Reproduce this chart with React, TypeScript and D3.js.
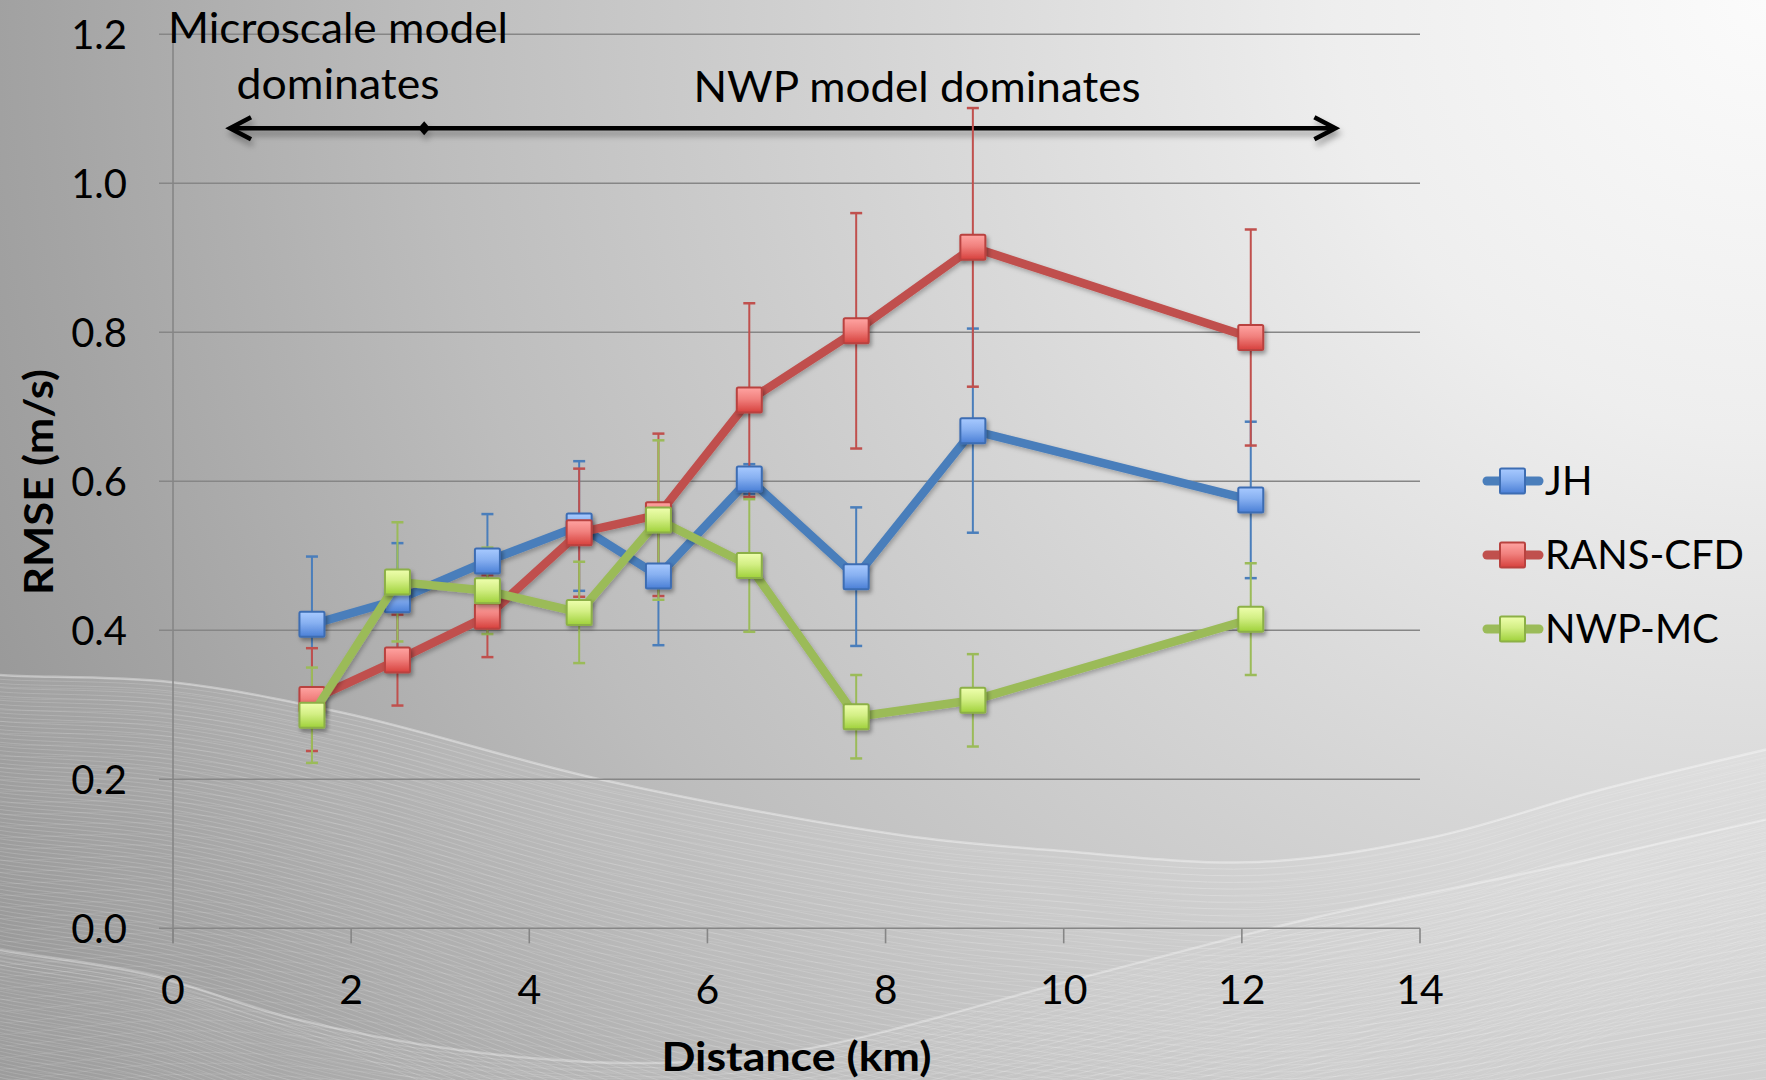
import React from 'react';
import * as d3 from 'd3';

const W = 1766;
const H = 1080;

// ---- data ----
const distances = [1.56, 2.52, 3.53, 4.56, 5.45, 6.47, 7.67, 8.98, 12.1];
const jh = [0.408, 0.441, 0.493, 0.54, 0.473, 0.603, 0.472, 0.668, 0.575];
const jhErr = [0.091, 0.076, 0.063, 0.087, 0.093, 0.02, 0.093, 0.137, 0.105];
const rans = [0.307, 0.36, 0.419, 0.531, 0.555, 0.709, 0.802, 0.914, 0.793];
const ransErr = [0.069, 0.061, 0.055, 0.086, 0.109, 0.13, 0.158, 0.187, 0.145];
const nwp = [0.286, 0.465, 0.453, 0.424, 0.548, 0.487, 0.284, 0.306, 0.415];
const nwpErr = [0.064, 0.08, 0.058, 0.068, 0.107, 0.089, 0.056, 0.062, 0.075];

const seriesNames = ['JH', 'RANS-CFD', 'NWP-MC'];
const xTicks = [0, 2, 4, 6, 8, 10, 12, 14];
const yTicks = [0, 0.2, 0.4, 0.6, 0.8, 1.0, 1.2];

const annLeft = ['Microscale model', 'dominates'];
const annRight = 'NWP model dominates';
const arrowStart = 0.64;
const arrowMid = 2.82;
const arrowEnd = 13.05;
const arrowLevel = 1.074;

const styles = [
  { line: '#4a7ebb', top: '#a8caff', bottom: '#4a7fd6', border: '#3d6db3' },
  { line: '#c0504d', top: '#ffa4a2', bottom: '#d6403c', border: '#b9423f' },
  { line: '#9bbb59', top: '#efffae', bottom: '#9fd13a', border: '#8cb046' },
];

// decorative background wave edges
const waveA: [number, number][] = [
  [-20, 672], [0, 675], [170, 682], [344, 713], [603, 780], [900, 835], [1050, 850],
  [1259, 862], [1434, 837], [1600, 790], [1786, 745],
];
const waveB: [number, number][] = [
  [-20, 945], [0, 950], [150, 975], [287, 1017], [459, 1050], [631, 1063], [800, 1050],
  [1084, 977], [1317, 917], [1550, 868], [1786, 815],
];

const FONT = 'Lato, "Open Sans", "DejaVu Sans", sans-serif';

export default function App() {
  const x = d3.scaleLinear().domain([0, 14]).range([173, 1420]);
  const y = d3.scaleLinear().domain([0, 1.2]).range([928.3, 34.3]);

  const series = [
    { name: seriesNames[0], vals: jh, err: jhErr },
    { name: seriesNames[1], vals: rans, err: ransErr },
    { name: seriesNames[2], vals: nwp, err: nwpErr },
  ];

  const lineGen = d3
    .line<number>()
    .x((_, i) => x(distances[i]))
    .y((d) => y(d));

  const curve = d3
    .line<[number, number]>()
    .x((d) => d[0])
    .y((d) => d[1])
    .curve(d3.curveCatmullRom.alpha(0.5));

  const areaUnder = (pts: [number, number][]) =>
    curve(pts) + ` L ${W + 20} ${H + 20} L -20 ${H + 20} Z`;

  const meshLines = (pts: [number, number][], n: number, step: number, tilt: number) => {
    const out: string[] = [];
    for (let i = 0; i < n; i++) {
      const shifted = pts.map(
        ([px, py]) => [px, py + i * step * (1 + tilt * (px / W - 0.5))] as [number, number]
      );
      out.push(curve(shifted) as string);
    }
    return out;
  };

  const meshA1 = meshLines(waveA, 70, 6, 0.6);
  const meshA2 = meshLines(waveA, 50, 8, -0.9);
  const meshB1 = meshLines(waveB, 40, 5, 0.5);
  const meshB2 = meshLines(waveB, 30, 7, -0.8);

  const mk = 25;
  const legendY = [481, 555, 629];

  const arrowY = y(arrowLevel);
  const ax0 = x(arrowStart);
  const ax1 = x(arrowEnd);
  const axm = x(arrowMid);

  const arrowShape = (
    <g>
      <line x1={ax0 + 2} y1={arrowY} x2={ax1 - 2} y2={arrowY} stroke="#000" strokeWidth={4.5} />
      <polyline
        points={`${ax0 + 21},${arrowY - 11} ${ax0},${arrowY} ${ax0 + 21},${arrowY + 11}`}
        fill="none"
        stroke="#000"
        strokeWidth={4.5}
        strokeLinejoin="miter"
      />
      <polyline
        points={`${ax1 - 21},${arrowY - 11} ${ax1},${arrowY} ${ax1 - 21},${arrowY + 11}`}
        fill="none"
        stroke="#000"
        strokeWidth={4.5}
        strokeLinejoin="miter"
      />
      <path
        d={`M ${axm} ${arrowY - 7} L ${axm + 6} ${arrowY} L ${axm} ${arrowY + 7} L ${axm - 6} ${arrowY} Z`}
        fill="#000"
      />
    </g>
  );

  return (
    <svg
      width={W}
      height={H}
      style={{ position: 'absolute', left: 0, top: 0, display: 'block' }}
      xmlns="http://www.w3.org/2000/svg"
    >
      <defs>
        <radialGradient id="bg" cx={W} cy={0} r={2150} gradientUnits="userSpaceOnUse">
          <stop offset="0" stopColor="#fbfbfb" />
          <stop offset="0.2" stopColor="#eeeeee" />
          <stop offset="0.42" stopColor="#d4d4d4" />
          <stop offset="0.62" stopColor="#bdbdbd" />
          <stop offset="0.8" stopColor="#a4a4a4" />
          <stop offset="1" stopColor="#8a8a8a" />
        </radialGradient>
        <clipPath id="clipA">
          <path d={areaUnder(waveA)} />
        </clipPath>
        <clipPath id="clipB">
          <path d={areaUnder(waveB)} />
        </clipPath>
        {styles.map((s, i) => (
          <linearGradient key={i} id={`mg${i}`} x1="0" y1="0" x2="0" y2="1">
            <stop offset="0" stopColor={s.top} />
            <stop offset="0.45" stopColor={d3.interpolateRgb(s.top, s.bottom)(0.35)} />
            <stop offset="1" stopColor={s.bottom} />
          </linearGradient>
        ))}
        <filter id="shadow" x="-50%" y="-50%" width="200%" height="200%">
          <feDropShadow dx="2" dy="3" stdDeviation="2" floodColor="#000" floodOpacity="0.35" />
        </filter>
        <filter id="lshadow" x="-10%" y="-10%" width="120%" height="120%">
          <feDropShadow dx="1.5" dy="2.5" stdDeviation="2" floodColor="#000" floodOpacity="0.25" />
        </filter>
        <filter id="ashadow" x="-10%" y="-100%" width="120%" height="300%">
          <feDropShadow dx="2" dy="5" stdDeviation="3" floodColor="#000" floodOpacity="0.35" />
        </filter>
      </defs>

      {/* background */}
      <rect x={0} y={0} width={W} height={H} fill="url(#bg)" />
      <g clipPath="url(#clipA)">
        <path d={areaUnder(waveA)} fill="#ffffff" opacity={0.07} />
        {meshA1.map((d, i) => (
          <path key={'a1' + i} d={d} fill="none" stroke="#ffffff" strokeWidth={1} opacity={0.16} />
        ))}
        {meshA2.map((d, i) => (
          <path key={'a2' + i} d={d} fill="none" stroke="#ffffff" strokeWidth={1} opacity={0.1} />
        ))}
      </g>
      <path d={curve(waveA) as string} fill="none" stroke="#ffffff" strokeWidth={2.5} opacity={0.35} />
      <g clipPath="url(#clipB)">
        <path d={areaUnder(waveB)} fill="#ffffff" opacity={0.06} />
        {meshB1.map((d, i) => (
          <path key={'b1' + i} d={d} fill="none" stroke="#ffffff" strokeWidth={1} opacity={0.14} />
        ))}
        {meshB2.map((d, i) => (
          <path key={'b2' + i} d={d} fill="none" stroke="#ffffff" strokeWidth={1} opacity={0.08} />
        ))}
      </g>
      <path d={curve(waveB) as string} fill="none" stroke="#ffffff" strokeWidth={2.5} opacity={0.3} />

      {/* gridlines and axes */}
      {yTicks.map((t) => (
        <line
          key={'g' + t}
          x1={x(0) - 14}
          x2={x(14)}
          y1={y(t)}
          y2={y(t)}
          stroke="#868686"
          strokeWidth={1.6}
        />
      ))}
      <line x1={x(0)} x2={x(0)} y1={y(1.2)} y2={y(0) + 15} stroke="#868686" strokeWidth={1.6} />
      {xTicks.map((t) => (
        <line
          key={'xt' + t}
          x1={x(t)}
          x2={x(t)}
          y1={y(0)}
          y2={y(0) + 15}
          stroke="#868686"
          strokeWidth={1.6}
        />
      ))}

      {/* tick labels */}
      {yTicks.map((t) => (
        <text
          key={'yl' + t}
          x={127}
          y={y(t)}
          textAnchor="end"
          dominantBaseline="central"
          fontFamily={FONT}
          fontSize={40}
          fill="#000"
        >
          {t.toFixed(1)}
        </text>
      ))}
      {xTicks.map((t) => (
        <text
          key={'xl' + t}
          x={x(t)}
          y={1004}
          textAnchor="middle"
          fontFamily={FONT}
          fontSize={41}
          fill="#000"
        >
          {t}
        </text>
      ))}

      {/* axis titles */}
      <text
        x={(x(0) + x(14)) / 2}
        y={1071}
        textAnchor="middle"
        fontFamily={FONT}
        fontWeight="bold"
        fontSize={41}
        textLength={270}
        lengthAdjust="spacingAndGlyphs"
        fill="#000"
      >
        Distance (km)
      </text>
      <text
        transform={`translate(53, 482) rotate(-90)`}
        textAnchor="middle"
        fontFamily={FONT}
        fontWeight="bold"
        fontSize={41}
        textLength={226}
        lengthAdjust="spacingAndGlyphs"
        fill="#000"
      >
        RMSE (m/s)
      </text>

      {/* annotations */}
      <text
        x={338}
        y={43}
        textAnchor="middle"
        fontFamily={FONT}
        fontSize={42}
        textLength={340}
        lengthAdjust="spacingAndGlyphs"
        fill="#000"
      >
        {annLeft[0]}
      </text>
      <text
        x={338}
        y={99}
        textAnchor="middle"
        fontFamily={FONT}
        fontSize={42}
        textLength={203}
        lengthAdjust="spacingAndGlyphs"
        fill="#000"
      >
        {annLeft[1]}
      </text>
      <text
        x={917}
        y={102}
        textAnchor="middle"
        fontFamily={FONT}
        fontSize={42}
        textLength={447}
        lengthAdjust="spacingAndGlyphs"
        fill="#000"
      >
        {annRight}
      </text>
      <g filter="url(#ashadow)">{arrowShape}</g>

      {/* error bars */}
      {series.map((s, si) => (
        <g key={'e' + si} stroke={styles[si].line} strokeWidth={2}>
          {s.vals.map((v, i) => {
            const cx = x(distances[i]);
            const top = y(v + s.err[i]);
            const bot = y(v - s.err[i]);
            return (
              <g key={i}>
                <line x1={cx} x2={cx} y1={top} y2={bot} />
                <line x1={cx - 6} x2={cx + 6} y1={top} y2={top} strokeWidth={2.5} />
                <line x1={cx - 6} x2={cx + 6} y1={bot} y2={bot} strokeWidth={2.5} />
              </g>
            );
          })}
        </g>
      ))}

      {/* series */}
      {series.map((s, si) => (
        <g key={'s' + si}>
          <path
            d={lineGen(s.vals) as string}
            fill="none"
            stroke={styles[si].line}
            strokeWidth={8.5}
            strokeLinejoin="round"
            filter="url(#lshadow)"
          />
          {s.vals.map((v, i) => (
            <rect
              key={i}
              x={x(distances[i]) - mk / 2}
              y={y(v) - mk / 2}
              width={mk}
              height={mk}
              rx={1.5}
              fill={`url(#mg${si})`}
              stroke={styles[si].border}
              strokeWidth={2}
              filter="url(#shadow)"
            />
          ))}
        </g>
      ))}

      {/* legend */}
      {series.map((s, si) => (
        <g key={'l' + si}>
          <line
            x1={1487}
            x2={1539}
            y1={legendY[si]}
            y2={legendY[si]}
            stroke={styles[si].line}
            strokeWidth={9}
            strokeLinecap="round"
          />
          <rect
            x={1500}
            y={legendY[si] - 12.5}
            width={25}
            height={25}
            rx={1.5}
            fill={`url(#mg${si})`}
            stroke={styles[si].border}
            strokeWidth={2}
          />
          <text
            x={1545}
            y={legendY[si] + 14}
            fontFamily={FONT}
            fontSize={40}
            fill="#000"
          >
            {s.name}
          </text>
        </g>
      ))}
    </svg>
  );
}
